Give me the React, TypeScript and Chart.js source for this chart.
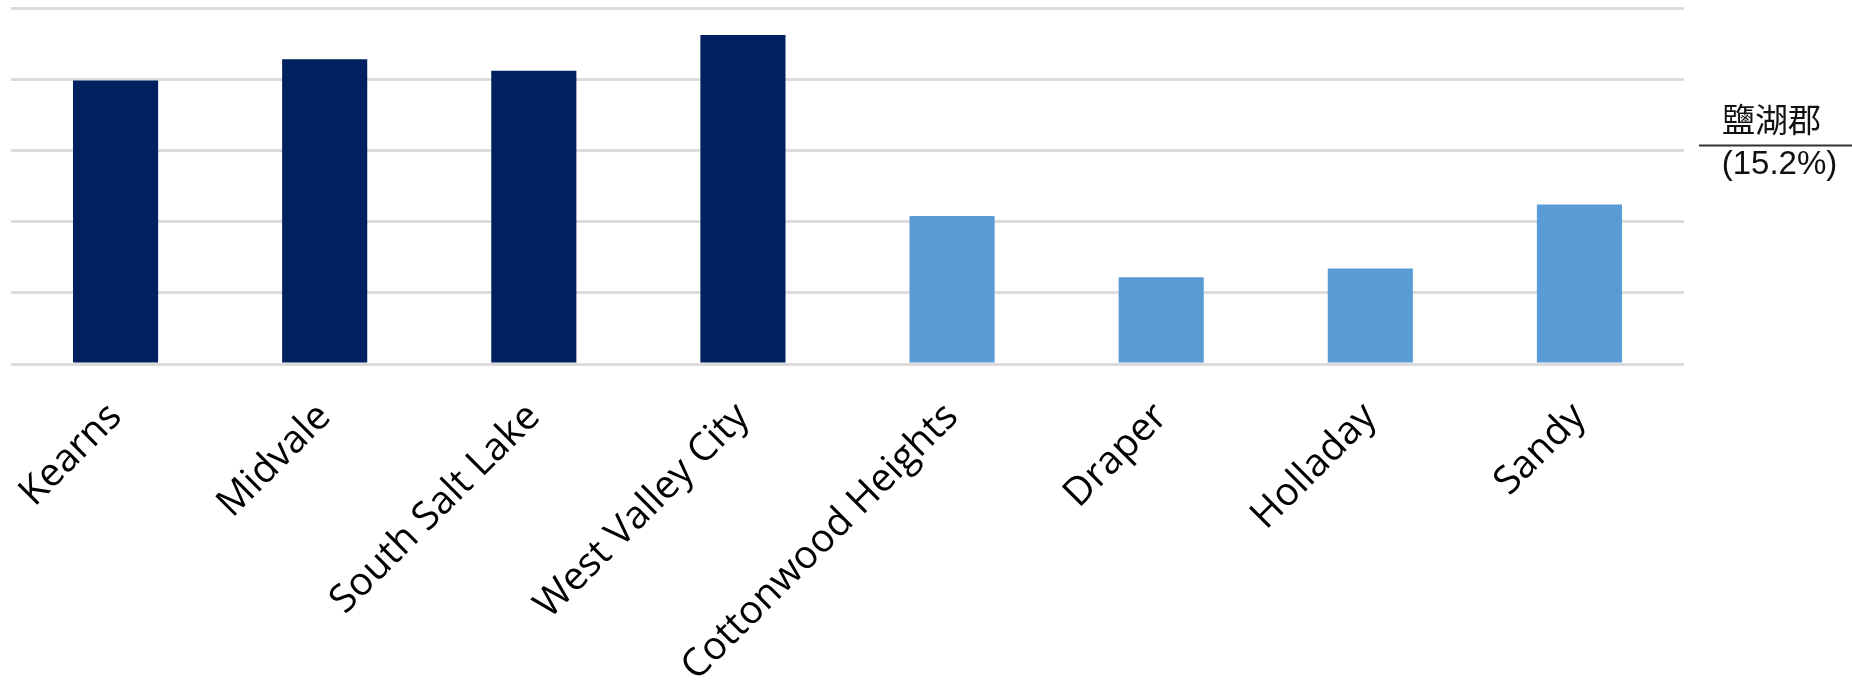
import React, { useEffect, useRef } from "react";
import { Chart, registerables } from "chart.js";

Chart.register(...registerables);

const categories = [
  "Kearns",
  "Midvale",
  "South Salt Lake",
  "West Valley City",
  "Cottonwood Heights",
  "Draper",
  "Holladay",
  "Sandy",
];
const values = [19.9, 21.4, 20.6, 23.1, 10.4, 6.1, 6.7, 11.2];
const groups = ["above", "above", "above", "above", "below", "below", "below", "below"];
const groupColors: Record<string, string> = { above: "#002060", below: "#5B9BD5" };
const countyLabel = "鹽湖郡";
const countyValue = 15.2;
const countyText = "(15.2%)";
const yMax = 25;
const yStep = 5;

const W = 1852;
const H = 688;

export default function App() {
  const ref = useRef<HTMLCanvasElement>(null);
  useEffect(() => {
    if (!ref.current) return;
    const annotation = {
      id: "countyAnnotation",
      afterDraw(chart: any) {
        const ctx = chart.ctx;
        const y = chart.scales.y.getPixelForValue(countyValue) - 2;
        const x0 = chart.chartArea.right + 15;
        const x1 = W;
        const cx = (x0 + x1) / 2;
        ctx.save();
        ctx.strokeStyle = "#333333";
        ctx.lineWidth = 2;
        ctx.beginPath();
        ctx.moveTo(x0, y);
        ctx.lineTo(x1, y);
        ctx.stroke();
        ctx.fillStyle = "#111111";
        ctx.textAlign = "center";
        ctx.textBaseline = "alphabetic";
        ctx.font = '33px "Noto Sans CJK TC"';
        ctx.fillText(countyLabel, cx - 4, y - 14);
        ctx.font = '33px "Liberation Sans", Arial, sans-serif';
        ctx.fillText(countyText, cx + 4, y + 28);
        ctx.restore();
      },
    };
    const chart = new Chart(ref.current, {
      type: "bar",
      data: {
        labels: categories,
        datasets: [
          {
            data: values,
            backgroundColor: groups.map((g) => groupColors[g]),
            categoryPercentage: 1,
            barPercentage: 0.407,
          },
        ],
      },
      options: {
        responsive: false,
        devicePixelRatio: 1,
        animation: false,
        layout: { padding: { left: 11, right: 168, top: 8, bottom: 0 } },
        plugins: { legend: { display: false }, tooltip: { enabled: false } },
        scales: {
          x: {
            grid: { display: false, drawTicks: false },
            border: { display: false },
            ticks: {
              autoSkip: false,
              minRotation: 45,
              maxRotation: 45,
              padding: 30,
              color: "#000000",
              font: { family: '"Open Sans"', size: 39 },
            },
            afterFit: (scale: any) => {
              scale.height = 324;
              scale.paddingLeft = 0;
              scale.paddingRight = 0;
            },
          },
          y: {
            min: 0,
            max: yMax,
            ticks: { display: false, stepSize: yStep },
            grid: { color: "#dcdcdc", lineWidth: 3, drawTicks: false },
            border: { display: false },
          },
        },
      },
      plugins: [annotation],
    });
    return () => chart.destroy();
  }, []);
  return (
    <div style={{ position: "fixed", left: 0, top: 0, width: W, height: H, background: "#fff" }}>
      <canvas ref={ref} width={W} height={H} style={{ width: W, height: H }} />
    </div>
  );
}
